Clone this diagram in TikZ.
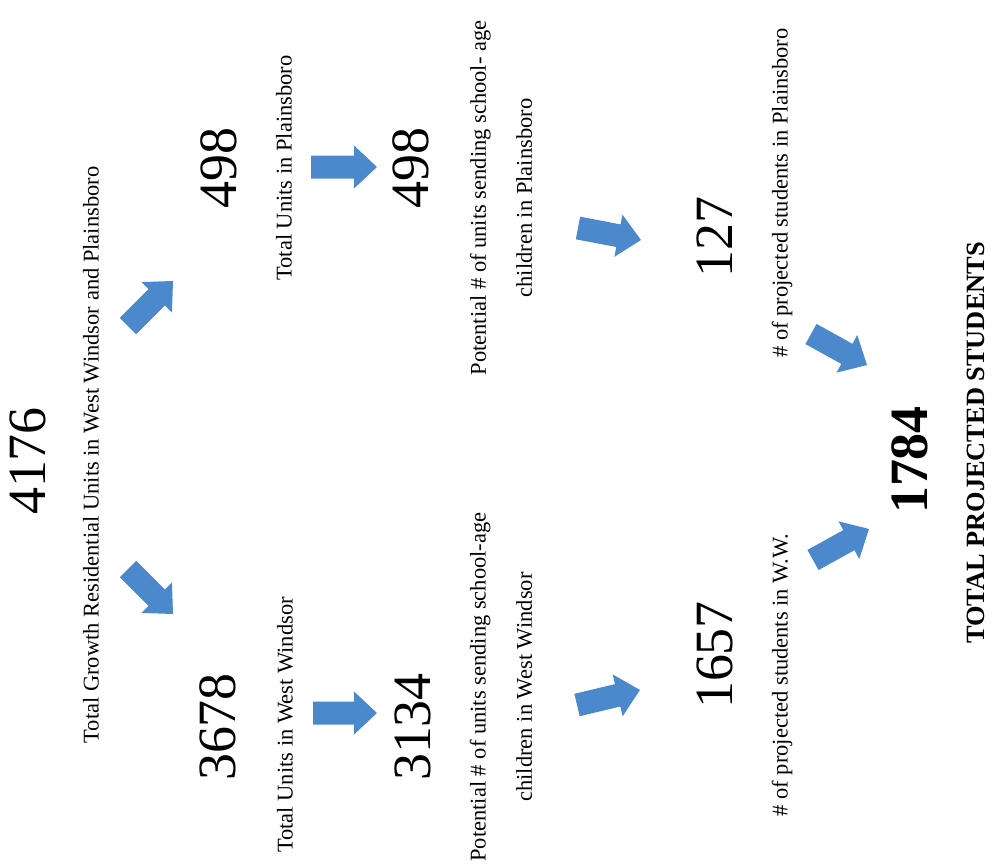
\documentclass[tikz,border=0pt]{standalone}
\usepackage{fontspec}
\setmainfont{Liberation Serif}
\usetikzlibrary{calc}
\definecolor{arrowblue}{RGB}{76,137,204}
\tikzset{
  num/.style={rotate=90, inner sep=0pt, font=\fontsize{46}{50}\selectfont},
  bignum/.style={rotate=90, inner sep=0pt, font=\fontsize{46}{50}\selectfont\bfseries},
  lbl/.style={rotate=90, inner sep=0pt, align=center, font=\fontsize{19.2}{39.3}\selectfont},
  boldlbl/.style={rotate=90, inner sep=0pt, font=\fontsize{22.5}{26}\selectfont\bfseries},
  blockarrow/.style={fill=arrowblue, draw=none, to path={
    let \p1=(\tikztostart), \p2=(\tikztotarget), \p3=($(\p2)!0.69cm!(\p1)$) in
    ($(\p1)!0.345cm!90:(\p2)$) -- ($(\p3)!0.345cm!-90:(\p1)$) -- ($(\p3)!0.645cm!-90:(\p1)$) -- (\p2)
    -- ($(\p3)!0.645cm!90:(\p1)$) -- ($(\p3)!0.345cm!90:(\p1)$) -- ($(\p1)!0.345cm!-90:(\p2)$) -- cycle}}
}
\begin{document}
\begin{tikzpicture}[x=0.03cm, y=-0.03cm]
\fill[white] (0,0) rectangle (995,867);
\useasboundingbox (0,0) rectangle (995,867);

% numbers
\node[num] (n4176) at (28,461) {4176};
\node[num] (n498a) at (219,168) {498};
\node[num] (n498b) at (411,168) {498};
\node[num] (n127) at (715,237) {127};
\node[num] (n3678) at (218,727) {3678};
\node[num] (n3134) at (413,727) {3134};
\node[num] (n1657) at (715,655) {1657};
\node[bignum] (n1784) at (910,460) {1784};

% labels
\node[lbl] (lgrowth) at (91,455) {Total Growth Residential Units in West Windsor and Plainsboro};
\node[lbl] (lunitsP) at (284,168) {Total Units in Plainsboro};
\node[lbl] (lunitsW) at (285,725) {Total Units in West Windsor};
\node[lbl] (lpotP) at (501,198) {Potential \# of units sending school- age\\children in Plainsboro};
\node[lbl] (lpotW) at (501,687) {Potential \# of units sending school-age\\children in West Windsor};
\node[lbl] (lprojP) at (782,193) {\# of projected students in Plainsboro};
\node[lbl] (lprojW) at (782,675) {\# of projected students in W.W.};
\node[boldlbl] (ltotal) at (976,443) {TOTAL PROJECTED STUDENTS};

% arrow ends
\coordinate (a1s) at (128,326); \coordinate (a1e) at (173,281);
\coordinate (a2s) at (128,569); \coordinate (a2e) at (173,614);
\coordinate (a3s) at (311,167); \coordinate (a3e) at (377,167);
\coordinate (a4s) at (313,713); \coordinate (a4e) at (377,713);
\coordinate (a5s) at (578,228); \coordinate (a5e) at (641,240);
\coordinate (a6s) at (577,705); \coordinate (a6e) at (640,690);
\coordinate (a7s) at (811,334); \coordinate (a7e) at (867,365);
\coordinate (a8s) at (813,560); \coordinate (a8e) at (869,529);

\path[blockarrow] (a1s) to (a1e);
\path[blockarrow] (a2s) to (a2e);
\path[blockarrow] (a3s) to (a3e);
\path[blockarrow] (a4s) to (a4e);
\path[blockarrow] (a5s) to (a5e);
\path[blockarrow] (a6s) to (a6e);
\path[blockarrow] (a7s) to (a7e);
\path[blockarrow] (a8s) to (a8e);
\end{tikzpicture}
\end{document}
